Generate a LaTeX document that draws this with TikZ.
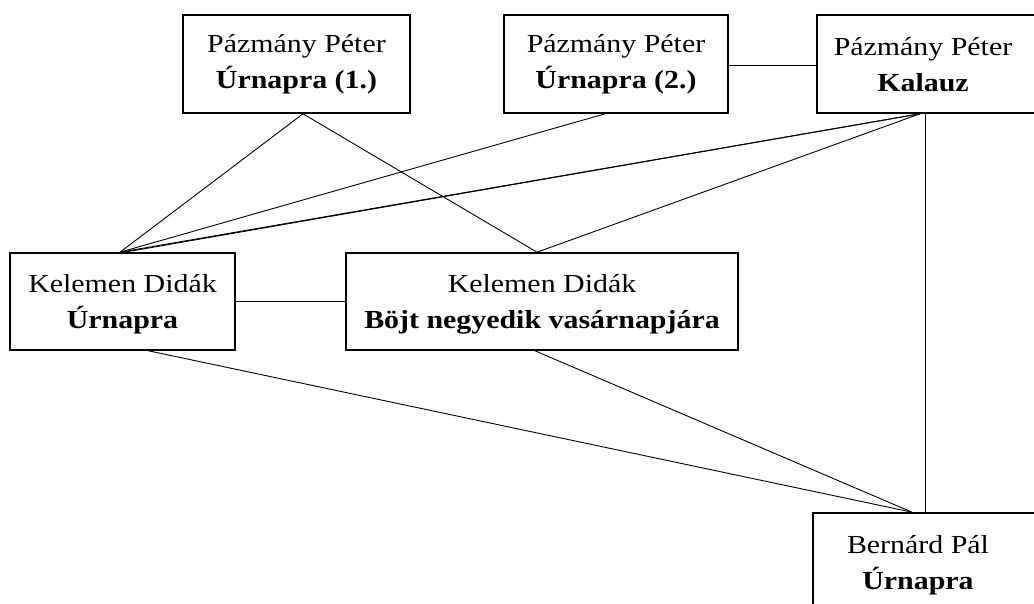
\documentclass[tikz,border=0pt]{standalone}
\usepackage{fontspec}
\setmainfont{Liberation Serif}[FakeStretch=1.15]
\begin{document}
\begin{tikzpicture}[x=1pt,y=-1pt,
  box/.style={draw=black,line width=1.6pt,fill=white,inner sep=0pt,minimum width=#1},
  txt/.style={align=center,font=\fontsize{26}{36}\selectfont,inner sep=0pt},
  link/.style={draw=black,line width=0.9pt}]
\useasboundingbox (0,0) rectangle (1034,604);
% boxes
\node[box=227pt,minimum height=98pt,txt] (b1) at (296.5,64) {Pázmány Péter\\\textbf{Úrnapra (1.)}};
\node[box=224pt,minimum height=98pt,txt] (b2) at (616,64) {Pázmány Péter\\\textbf{Úrnapra (2.)}};
\node[box=230pt,minimum height=98pt] (b3) at (932,64) {};
\node[txt] (t3) at (923,65) {Pázmány Péter\\\textbf{Kalauz}};
\node[box=225pt,minimum height=97pt,txt] (b4) at (122.5,301.5) {};
\node[txt] (t4) at (122.5,304) {Kelemen Didák\\\textbf{Úrnapra}};
\node[box=392pt,minimum height=97pt] (b5) at (542,301.5) {};
\node[txt] (t5) at (542,304) {Kelemen Didák\\\textbf{Böjt negyedik vasárnapjára}};
\node[box=232pt,minimum height=112pt] (b6) at (929,569) {};
\node[txt] (t6) at (918,565) {Bernárd Pál\\\textbf{Úrnapra}};
% connectors
\draw[link] ([xshift=6.5pt]b1.south) -- ([xshift=-2.5pt]b4.north);
\draw[link] ([xshift=6.5pt]b1.south) -- ([xshift=-5pt]b5.north);
\draw[link] ([xshift=-11pt]b2.south) -- ([xshift=-2.5pt]b4.north);
\draw[link] ([xshift=-12pt]b3.south) -- ([xshift=-2.5pt]b4.north);
\draw[link] ([xshift=-12pt]b3.south) -- ([xshift=2pt]b4.north);
\draw[link] ([xshift=-12pt]b3.south) -- ([xshift=-5pt]b5.north);
\draw[link] (b2.east |- 0,65.5) -- (b3.west |- 0,65.5);
\draw[link] (b4.east) -- (b5.west);
\draw[link] ([xshift=-7pt]b3.south) -- ([xshift=-4pt]b6.north);
\draw[link] ([xshift=26pt]b4.south) -- ([xshift=-17pt]b6.north);
\draw[link] ([xshift=-7pt]b5.south) -- ([xshift=-17pt]b6.north);
\end{tikzpicture}
\end{document}
